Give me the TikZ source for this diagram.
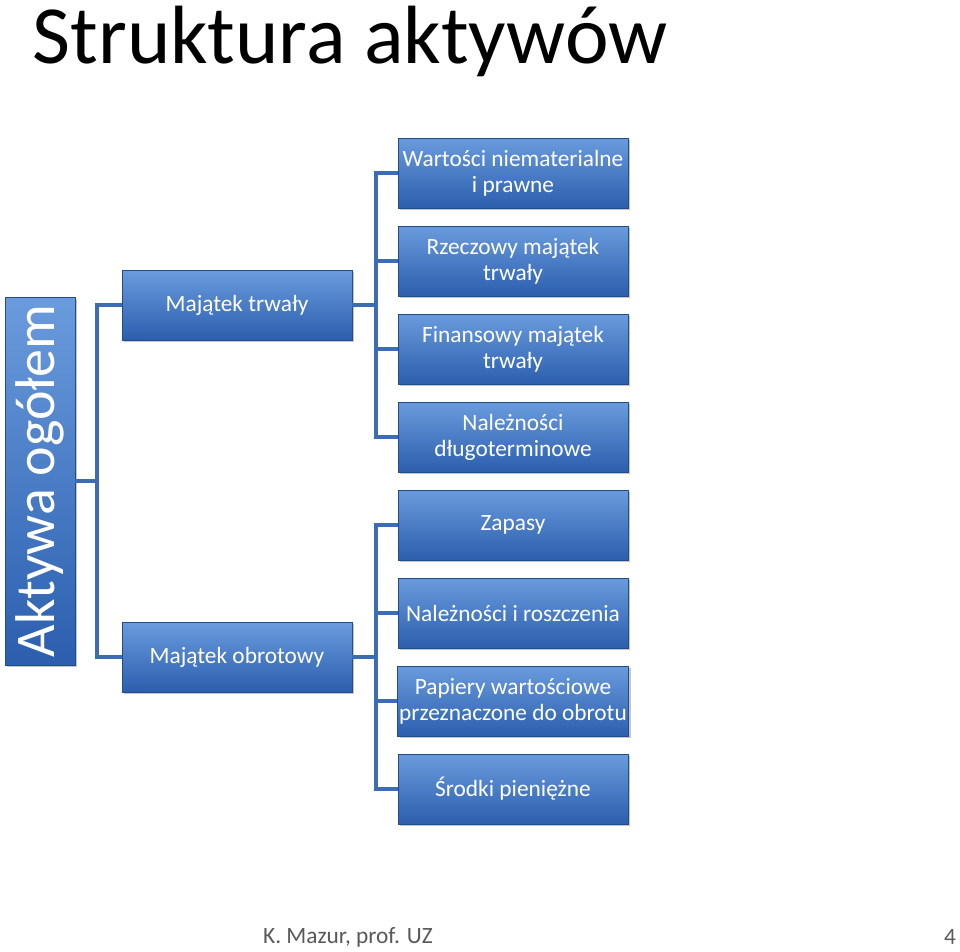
\documentclass[tikz,border=0pt]{standalone}
\usepackage{fontspec}
\setmainfont{Carlito}
\usetikzlibrary{shadows}
\definecolor{btop}{HTML}{6A9BDD}
\definecolor{bbot}{HTML}{2B5FAE}
\definecolor{lnc}{HTML}{3C6DB4}
\tikzset{
 box/.style={draw=bbot!80!black, line width=0.6pt, top color=btop, bottom color=bbot, text=white, align=center, font=\fontsize{17.5}{19.5}\selectfont, minimum width=172.5pt, minimum height=52.5pt, inner sep=1pt, drop shadow={opacity=0.45, shadow xshift=1.8pt, shadow yshift=-1.8pt}},
 conn/.style={draw=lnc, line width=3pt}
}
\begin{document}
\begin{tikzpicture}[x=0.75pt,y=-0.75pt]
\useasboundingbox (0,0) rectangle (960,951);
\node[anchor=west, font=\fontsize{62}{66}\selectfont] (title) at (28,41) {Struktura aktywów};
\node[box, minimum width=52.5pt, minimum height=276pt] (root) at (40,481) {};
\node[rotate=90, text=white, font=\fontsize{42}{46}\selectfont] (roott) at (root.center) {Aktywa ogółem};
\node[box] (mt) at (237,305) {Majątek trwały};
\node[box] (mo) at (237,657) {Majątek obrotowy};
\node[box] (a1) at (513,173) {Wartości niematerialne\\i prawne};
\node[box] (a2) at (513,261) {Rzeczowy majątek\\trwały};
\node[box] (a3) at (513,349) {Finansowy majątek\\trwały};
\node[box] (a4) at (513,437) {Należności\\długoterminowe};
\node[box] (b1) at (513,525) {Zapasy};
\node[box] (b2) at (513,613) {Należności i roszczenia};
\node[box] (b3) at (513,701) {Papiery wartościowe\\przeznaczone do obrotu};
\node[box] (b4) at (513,789) {Środki pieniężne};
\draw[conn] (root.east) -- (97,481);
\draw[conn] (mt.west) -| (97,481) |- (mo.west);
\draw[conn] (mt.east) -- (376,305);
\draw[conn] (a1.west) -| (376,305) |- (a4.west);
\draw[conn] (a2.west) -- (376,261);
\draw[conn] (a3.west) -- (376,349);
\draw[conn] (mo.east) -- (376,657);
\draw[conn] (b1.west) -| (376,657) |- (b4.west);
\draw[conn] (b2.west) -- (376,613);
\draw[conn] (b3.west) -- (376,701);
\node[text=gray!70!black, font=\fontsize{17.5}{19}\selectfont] (foot) at (348,937) {K. Mazur, prof. UZ};
\node[text=gray!70!black, font=\fontsize{17.5}{19}\selectfont] (pg) at (950,937) {4};
\end{tikzpicture}
\end{document}
